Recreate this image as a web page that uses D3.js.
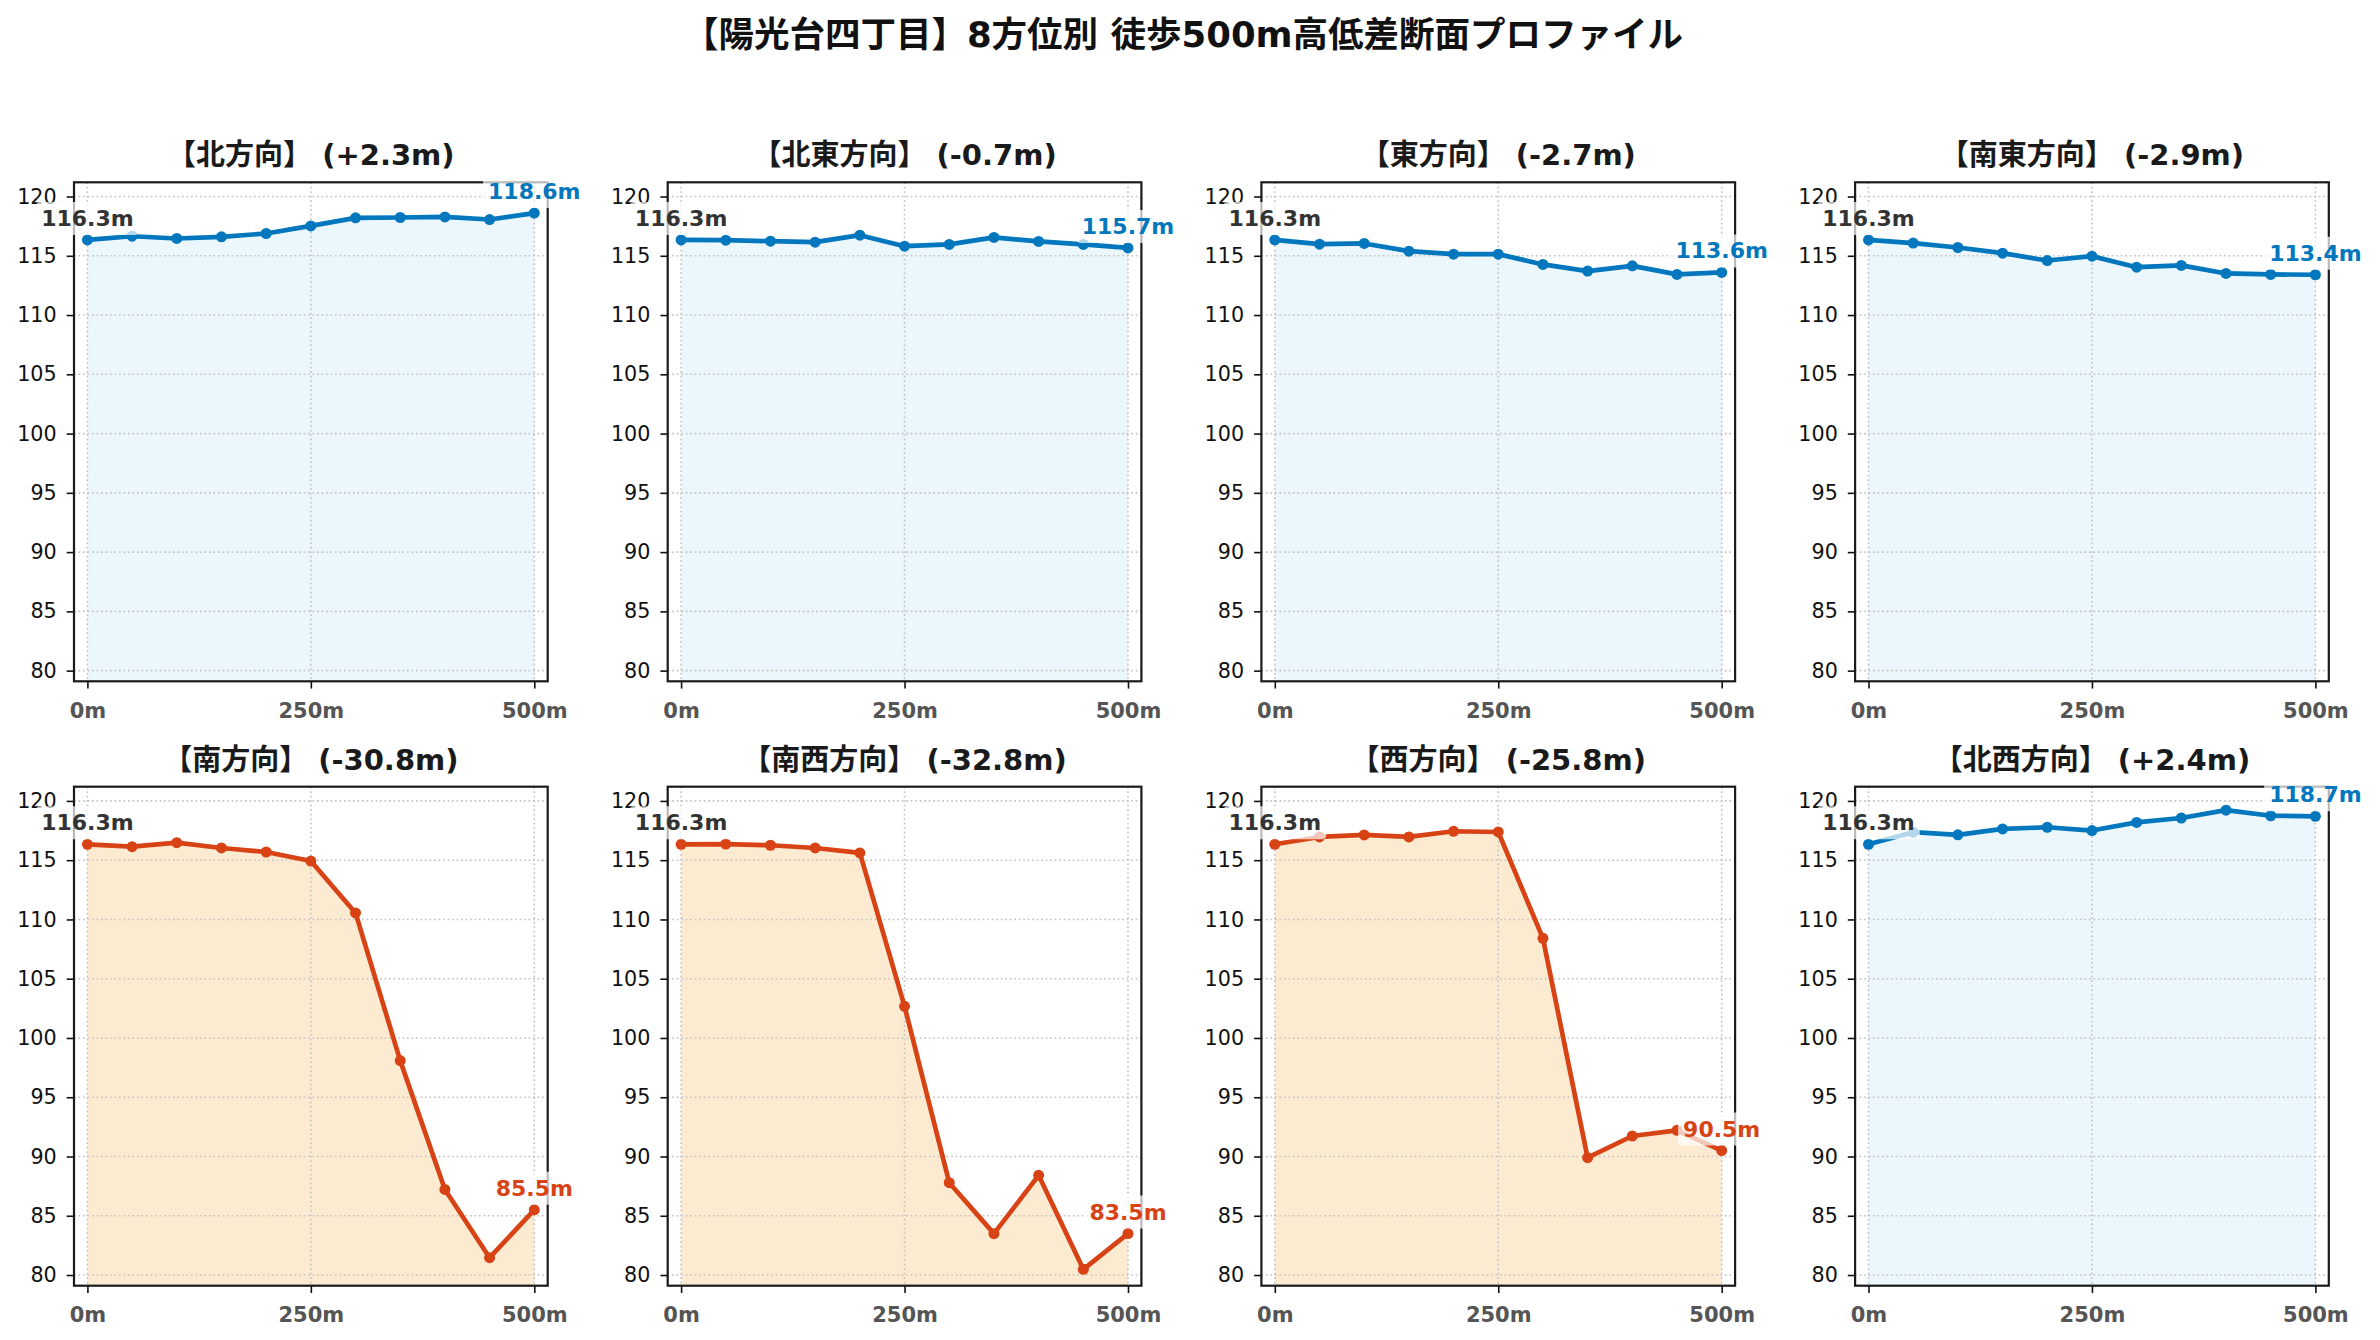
<!DOCTYPE html>
<html>
<head>
<meta charset="utf-8">
<script src="https://cdn.jsdelivr.net/npm/d3@7"></script>
<style>
  html, body { margin: 0; padding: 0; background: #ffffff; }
  svg { display: block; }
</style>
</head>
<body>
<svg id="chart" width="2380" height="1340"></svg>
<script>
// ---------------- DATA ----------------
const chartTitle = "【陽光台四丁目】8方位別 徒歩500m高低差断面プロファイル";
const directions = ["北方向", "北東方向", "東方向", "南東方向", "南方向", "南西方向", "西方向", "北西方向"];
const distances = [0, 50, 100, 150, 200, 250, 300, 350, 400, 450, 500];
const elevN  = [116.34, 116.65, 116.46, 116.60, 116.88, 117.52, 118.20, 118.23, 118.28, 118.06, 118.60];
const elevNE = [116.34, 116.32, 116.23, 116.15, 116.74, 115.81, 115.96, 116.55, 116.21, 115.96, 115.66];
const elevE  = [116.34, 115.98, 116.04, 115.39, 115.14, 115.14, 114.27, 113.71, 114.15, 113.43, 113.60];
const elevSE = [116.34, 116.07, 115.70, 115.22, 114.60, 114.97, 114.04, 114.19, 113.51, 113.43, 113.40];
const elevS  = [116.34, 116.14, 116.48, 116.03, 115.69, 114.93, 110.55, 98.09, 87.22, 81.46, 85.50];
const elevSW = [116.34, 116.36, 116.26, 116.03, 115.61, 102.67, 87.79, 83.49, 88.41, 80.48, 83.50];
const elevW  = [116.34, 116.96, 117.13, 116.96, 117.44, 117.38, 108.41, 89.90, 91.73, 92.21, 90.50];
const elevNW = [116.34, 117.36, 117.14, 117.64, 117.78, 117.50, 118.19, 118.56, 119.22, 118.75, 118.70];
const allSeries = [elevN, elevNE, elevE, elevSE, elevS, elevSW, elevW, elevNW];
const yTicks = [80, 85, 90, 95, 100, 105, 110, 115, 120];
const xTicks = [0, 250, 500];
const xTickLabels = ["0m", "250m", "500m"];
const yDomain = [79.1, 121.2];
const xDomain = [-15, 515];
const steepThreshold = 10; // |diff| >= 10m drawn in warm colours

// ---------------- STYLE ----------------
const W = 2380, H = 1340;
const colLeft = [74, 667.7, 1261.4, 1855.1];
const rowTop = [182.3, 786.7];
const pw = 473.7, ph = 499;
const LATIN = "'DejaVu Sans', 'Noto Sans CJK JP', sans-serif";
const BLUE = "#0277BD", BLUE_FILL = "#EBF7FD";
const RED = "#D84315", RED_FILL = "#FDEBD1";

const svg = d3.select("#chart");
svg.append("rect").attr("width", W).attr("height", H).attr("fill", "#fff");

svg.append("text")
  .attr("x", 1183).attr("y", 47)
  .attr("text-anchor", "middle")
  .attr("font-family", LATIN)
  .attr("font-weight", "bold")
  .attr("font-size", 35.5)
  .attr("fill", "#111")
  .text(chartTitle);

const fmtSigned = v => (v >= 0 ? "+" : "") + v.toFixed(1);

directions.forEach((name, i) => {
  const data = allSeries[i];
  const r = Math.floor(i / 4), c = i % 4;
  const x0 = colLeft[c], y0 = rowTop[r];
  const x = d3.scaleLinear().domain(xDomain).range([x0, x0 + pw]);
  const y = d3.scaleLinear().domain(yDomain).range([y0 + ph, y0]);
  const start = data[0], end = data[data.length - 1];
  const diff = end - start;
  const steep = Math.abs(diff) >= steepThreshold;
  const lineColor = steep ? RED : BLUE;
  const fillColor = steep ? RED_FILL : BLUE_FILL;

  const g = svg.append("g");
  const pts = distances.map((d, k) => [d, data[k]]);

  // fill
  g.append("path")
    .datum(pts)
    .attr("d", d3.area().x(d => x(d[0])).y0(y(yDomain[0])).y1(d => y(d[1])))
    .attr("fill", fillColor);

  // grid
  const grid = g.append("g").attr("stroke", "#c4c4c4").attr("stroke-width", 1.6)
    .attr("stroke-dasharray", "1.7 2.8");
  yTicks.forEach(t => grid.append("line")
    .attr("x1", x0).attr("x2", x0 + pw).attr("y1", y(t)).attr("y2", y(t)));
  xTicks.forEach(t => grid.append("line")
    .attr("x1", x(t)).attr("x2", x(t)).attr("y1", y0).attr("y2", y0 + ph));

  // line + markers
  g.append("path")
    .datum(pts)
    .attr("d", d3.line().x(d => x(d[0])).y(d => y(d[1])))
    .attr("fill", "none").attr("stroke", lineColor)
    .attr("stroke-width", 4.7).attr("stroke-linejoin", "round").attr("stroke-linecap", "round");
  g.selectAll("circle.pt").data(pts).enter().append("circle")
    .attr("cx", d => x(d[0])).attr("cy", d => y(d[1])).attr("r", 5.5)
    .attr("fill", lineColor);

  // axes
  const yAxis = d3.axisLeft(y).tickValues(yTicks).tickSize(7.3).tickPadding(10).tickFormat(d3.format("d"));
  const ya = g.append("g").attr("transform", `translate(${x0},0)`).call(yAxis);
  ya.select(".domain").remove();
  ya.selectAll("line").attr("stroke", "#111").attr("stroke-width", 1.6);
  ya.selectAll("text").attr("font-family", LATIN).attr("font-size", 20.7).attr("fill", "#111");

  const xAxis = d3.axisBottom(x).tickValues(xTicks).tickSize(7.3).tickPadding(14)
    .tickFormat((d, k) => xTickLabels[k]);
  const xa = g.append("g").attr("transform", `translate(0,${y0 + ph})`).call(xAxis);
  xa.select(".domain").remove();
  xa.selectAll("line").attr("stroke", "#111").attr("stroke-width", 1.6);
  xa.selectAll("text").attr("font-family", LATIN).attr("font-size", 21)
    .attr("font-weight", "bold").attr("fill", "#555");

  // frame
  g.append("rect").attr("x", x0).attr("y", y0).attr("width", pw).attr("height", ph)
    .attr("fill", "none").attr("stroke", "#1a1a1a").attr("stroke-width", 2.2);

  // panel title
  g.append("text")
    .attr("x", x0 + pw / 2).attr("y", y0 - 17)
    .attr("text-anchor", "middle")
    .attr("font-family", LATIN).attr("font-weight", "bold").attr("font-size", 29)
    .attr("fill", "#1a1a1a")
    .text(`【${name}】 (${fmtSigned(diff)}m)`);

  // labels with white box
  function label(xv, yv, txt, color) {
    const lg = g.append("g");
    const t = lg.append("text")
      .attr("x", x(xv)).attr("y", y(yv) - 14)
      .attr("text-anchor", "middle")
      .attr("font-family", LATIN).attr("font-weight", "bold").attr("font-size", 22)
      .attr("fill", color).text(txt);
    const bb = t.node().getBBox();
    lg.insert("rect", "text")
      .attr("x", bb.x - 5).attr("y", bb.y - 4)
      .attr("width", bb.width + 10).attr("height", bb.height + 8)
      .attr("rx", 4).attr("fill", "#fff").attr("fill-opacity", 0.7);
  }
  label(distances[0], start, start.toFixed(1) + "m", "#333");
  label(distances[distances.length - 1], end, end.toFixed(1) + "m", lineColor);
});
</script>
</body>
</html>
